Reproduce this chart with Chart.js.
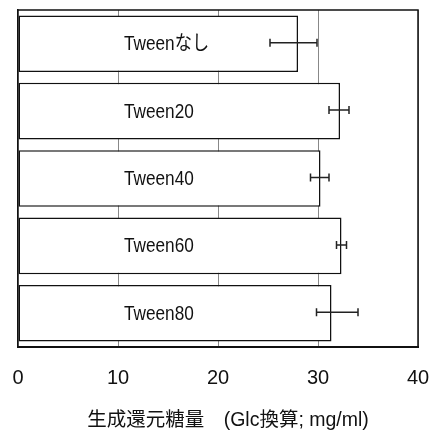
<!DOCTYPE html>
<html>
<head>
<meta charset="utf-8">
<script src="https://cdn.jsdelivr.net/npm/chart.js@4/dist/chart.umd.min.js"></script>
<style>
  html, body { margin: 0; padding: 0; background: #fff; }
  #wrap { width: 435px; height: 432px; }
</style>
</head>
<body>
<div id="wrap"><canvas id="c" width="435" height="432"></canvas></div>
<script>
// Reducing sugar produced with each surfactant (mg/ml, glucose equivalent)
const categories = ['Tweenなし', 'Tween20', 'Tween40', 'Tween60', 'Tween80'];
const sugarMeans = [28.0, 32.2, 30.25, 32.35, 31.35];
const errLow = [25.2, 31.1, 29.25, 31.85, 29.85];
const errHigh = [29.9, 33.1, 31.1, 32.85, 34.0];
const xTicks = [0, 10, 20, 30, 40];
const axisTitle = '生成還元糖量　(Glc換算; mg/ml)';

const sans = '"Liberation Sans", Arial, "Noto Sans CJK JP", sans-serif';
const ink = '#111';

// Black frame along the top and right of the plotting area
const frame = {
  id: 'frame',
  afterDraw(chart) {
    const { ctx, chartArea: a } = chart;
    ctx.save();
    ctx.strokeStyle = ink;
    ctx.lineWidth = 1.5;
    ctx.beginPath();
    ctx.moveTo(a.left, a.top);
    ctx.lineTo(a.right, a.top);
    ctx.lineTo(a.right, a.bottom);
    ctx.stroke();
    ctx.restore();
  }
};

// Category names written inside each bar, in a condensed face
const barLabels = {
  id: 'barLabels',
  afterDatasetsDraw(chart) {
    const { ctx } = chart;
    const ys = chart.scales.y;
    const xLeft = chart.chartArea.left + 106;
    const squeeze = 0.86;
    ctx.save();
    ctx.fillStyle = ink;
    ctx.font = '20px ' + sans;
    ctx.textAlign = 'left';
    ctx.textBaseline = 'middle';
    categories.forEach((name, i) => {
      const y = ys.getPixelForTick(i) + 1;
      ctx.save();
      ctx.translate(xLeft, y);
      ctx.scale(squeeze, 1);
      ctx.fillText(name, 0, 0);
      ctx.restore();
    });
    ctx.restore();
  }
};

// Horizontal error bars with end caps
const errorBars = {
  id: 'errorBars',
  afterDatasetsDraw(chart) {
    const { ctx } = chart;
    const xs = chart.scales.x;
    const meta = chart.getDatasetMeta(0);
    ctx.save();
    ctx.strokeStyle = '#222';
    ctx.lineWidth = 1.5;
    meta.data.forEach((bar, i) => {
      const x1 = xs.getPixelForValue(errLow[i]);
      const x2 = xs.getPixelForValue(errHigh[i]);
      const y = bar.y - 1;
      const cap = 4;
      ctx.beginPath();
      ctx.moveTo(x1, y); ctx.lineTo(x2, y);
      ctx.moveTo(x1, y - cap); ctx.lineTo(x1, y + cap);
      ctx.moveTo(x2, y - cap); ctx.lineTo(x2, y + cap);
      ctx.stroke();
    });
    ctx.restore();
  }
};

// Axis title under the tick labels
const xTitle = {
  id: 'xTitle',
  afterDraw(chart) {
    const { ctx } = chart;
    ctx.save();
    ctx.fillStyle = ink;
    ctx.font = '19.5px ' + sans;
    ctx.textAlign = 'center';
    ctx.textBaseline = 'middle';
    ctx.fillText(axisTitle, 228, 421);
    ctx.restore();
  }
};

new Chart(document.getElementById('c'), {
  type: 'bar',
  data: {
    labels: categories,
    datasets: [{
      data: sugarMeans,
      backgroundColor: '#fff',
      borderColor: ink,
      borderWidth: 1.5,
      borderSkipped: false,
      barPercentage: 0.84,
      categoryPercentage: 1
    }]
  },
  options: {
    indexAxis: 'y',
    responsive: false,
    animation: false,
    devicePixelRatio: 1,
    layout: { padding: { left: 18, right: 17, top: 10, bottom: 0 } },
    plugins: {
      legend: { display: false },
      tooltip: { enabled: false }
    },
    scales: {
      x: {
        type: 'linear',
        min: 0,
        max: 40,
        afterBuildTicks: (s) => { s.ticks = xTicks.map(v => ({ value: v })); },
        afterFit: (s) => { s.height = 85; s.paddingLeft = 0; s.paddingRight = 0; },
        ticks: { padding: 19, color: ink, font: { family: sans, size: 20, lineHeight: 1.2 } },
        grid: { color: '#888', lineWidth: 1, drawTicks: false },
        border: { display: true, color: ink, width: 2 }
      },
      y: {
        type: 'category',
        afterFit: (s) => { s.width = 0; s.paddingTop = 0; s.paddingBottom = 0; },
        ticks: { display: false },
        grid: { display: false, drawTicks: false },
        border: { display: true, color: ink, width: 1.5 }
      }
    }
  },
  plugins: [frame, barLabels, errorBars, xTitle]
});
</script>
</body>
</html>
